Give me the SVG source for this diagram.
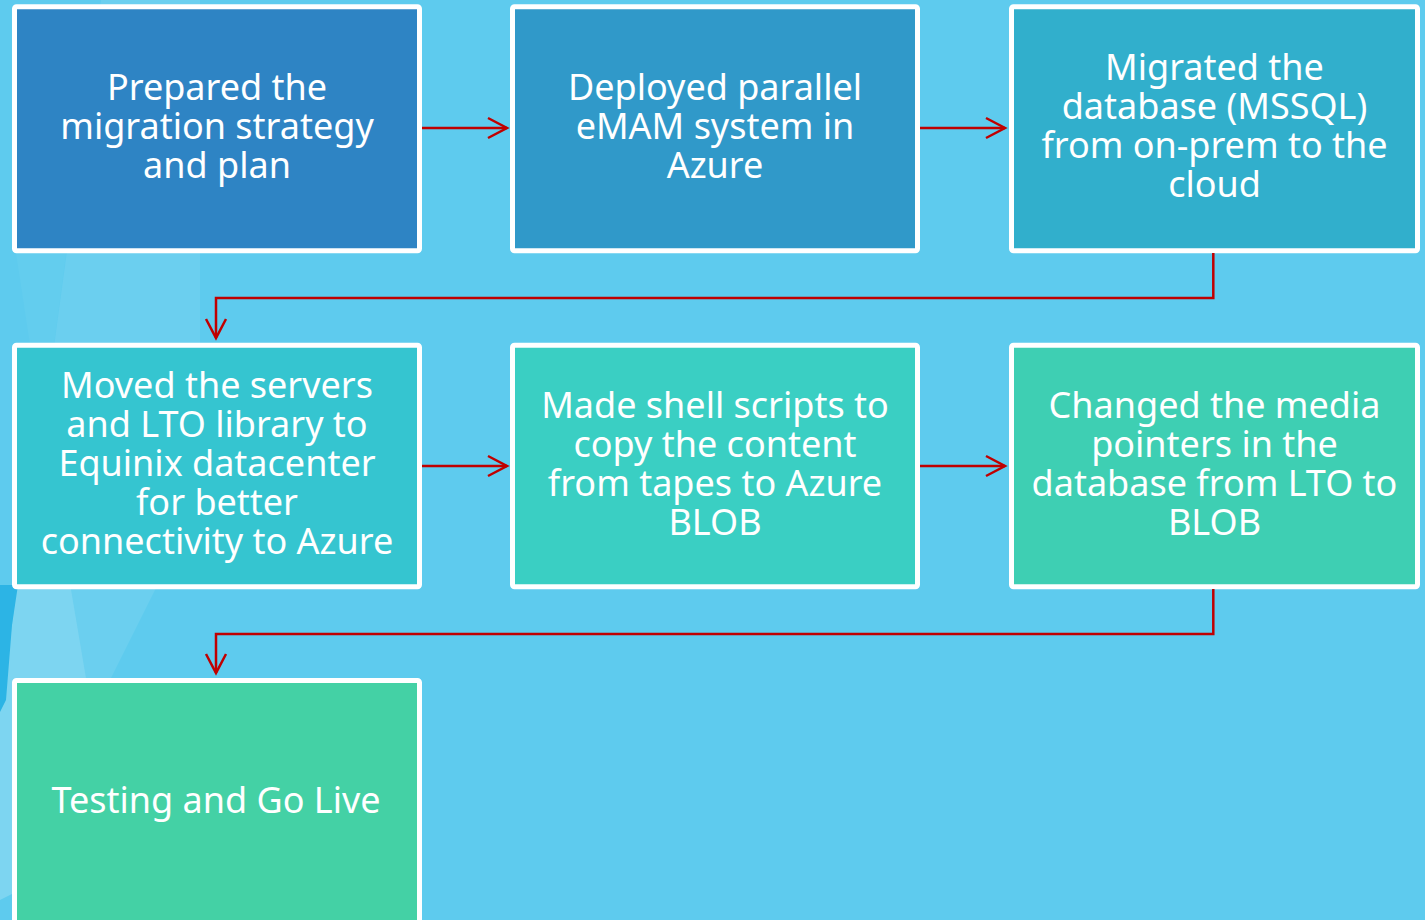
<svg xmlns="http://www.w3.org/2000/svg" width="1425" height="920" viewBox="0 0 1425 920">
  <defs>
    <style>
      .box { stroke: #FFFFFF; stroke-width: 5; }
      .lbl { font-family: "Noto Sans", "Open Sans", "DejaVu Sans", sans-serif; font-size: 36px; fill: #FFFFFF; text-anchor: middle; }
      .conn { fill: none; stroke: #C00000; stroke-width: 2.5; marker-end: url(#arrow); }
    </style>
    <marker id="arrow" markerUnits="userSpaceOnUse" markerWidth="24" markerHeight="24" viewBox="0 0 24 24" refX="21" refY="12" orient="auto">
      <path d="M2,2 L21,12 L2,22" fill="none" stroke="#C00000" stroke-width="2.5"/>
    </marker>
  </defs>

  <g id="background">
    <rect x="0" y="0" width="1425" height="920" fill="#5ECBEE"/>
    <polygon points="14,240 68,240 54,345 30,345" fill="#63CDEE"/>
    <polygon points="101,0 200,0 200,420 44,420" fill="#6BCFEF"/>
    <polygon points="20,560 66,560 90,680 40,880 0,900 0,700 10,640" fill="#7DD5F1"/>
    <polygon points="66,560 170,560 105,690 88,690" fill="#6BCFEF"/>
    <polygon points="0,585 18,585 12,625 6,700 0,712" fill="#2CB4E5"/>
  </g>

  <g id="node1">
    <rect class="box" x="14.5" y="6.8" width="405" height="244" rx="2" fill="#2E84C4"/>
    <text class="lbl"><tspan x="217" y="100">Prepared the</tspan><tspan x="217" y="139">migration strategy</tspan><tspan x="217" y="178">and plan</tspan></text>
  </g>
  <g id="node2">
    <rect class="box" x="512.5" y="6.8" width="405" height="244" rx="2" fill="#3099C9"/>
    <text class="lbl"><tspan x="715" y="100">Deployed parallel</tspan><tspan x="715" y="139">eMAM system in</tspan><tspan x="715" y="178">Azure</tspan></text>
  </g>
  <g id="node3">
    <rect class="box" x="1011.5" y="6.8" width="406" height="244" rx="2" fill="#31AFCC"/>
    <text class="lbl"><tspan x="1214.5" y="80">Migrated the</tspan><tspan x="1214.5" y="119">database (MSSQL)</tspan><tspan x="1214.5" y="158">from on-prem to the</tspan><tspan x="1214.5" y="197">cloud</tspan></text>
  </g>
  <g id="node4">
    <rect class="box" x="14.5" y="345.2" width="405" height="241.6" rx="2" fill="#35C5D0"/>
    <text class="lbl"><tspan x="217" y="398">Moved the servers</tspan><tspan x="217" y="437">and LTO library to</tspan><tspan x="217" y="476">Equinix datacenter</tspan><tspan x="217" y="515">for better</tspan><tspan x="217" y="554">connectivity to Azure</tspan></text>
  </g>
  <g id="node5">
    <rect class="box" x="512.5" y="345.2" width="405" height="241.6" rx="2" fill="#3ACFC3"/>
    <text class="lbl"><tspan x="715" y="417.5">Made shell scripts to</tspan><tspan x="715" y="456.5">copy the content</tspan><tspan x="715" y="495.5">from tapes to Azure</tspan><tspan x="715" y="534.5">BLOB</tspan></text>
  </g>
  <g id="node6">
    <rect class="box" x="1011.5" y="345.2" width="406" height="241.6" rx="2" fill="#3ECFB3"/>
    <text class="lbl"><tspan x="1214.5" y="417.5">Changed the media</tspan><tspan x="1214.5" y="456.5">pointers in the</tspan><tspan x="1214.5" y="495.5">database from LTO to</tspan><tspan x="1214.5" y="534.5">BLOB</tspan></text>
  </g>
  <g id="node7">
    <rect class="box" x="14.5" y="680.5" width="405" height="260" rx="2" fill="#44D1A5"/>
    <text class="lbl" x="216" y="813">Testing and Go Live</text>
  </g>

  <g id="connectors">
    <path class="conn" d="M422,128 L507,128"/>
    <path class="conn" d="M920,128 L1005,128"/>
    <path class="conn" d="M1213.3,253 L1213.3,298 L216,298 L216,338"/>
    <path class="conn" d="M422,466 L507,466"/>
    <path class="conn" d="M920,466 L1005,466"/>
    <path class="conn" d="M1213.3,589 L1213.3,634 L216,634 L216,673"/>
  </g>
</svg>
